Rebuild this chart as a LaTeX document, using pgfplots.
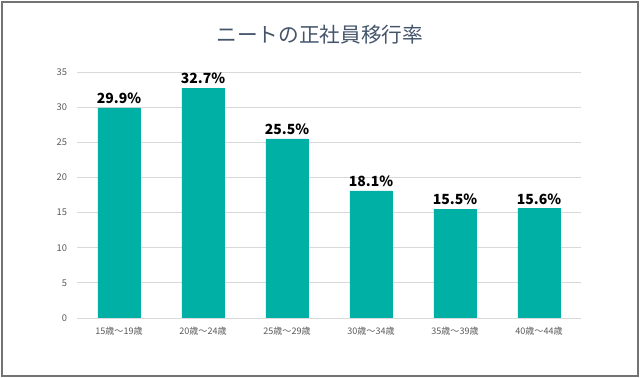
\documentclass[border=0pt]{standalone}
\usepackage{fontspec}
\setmainfont{Noto Sans CJK JP}
\usepackage{pgfplots}
\pgfplotsset{compat=1.18}
\definecolor{barc}{RGB}{0,176,164}
\definecolor{titlec}{RGB}{68,84,106}
\definecolor{tickc}{RGB}{89,89,89}
\definecolor{gridc}{RGB}{217,217,217}
\begin{document}
\begin{tikzpicture}[x=1pt,y=1pt]
\useasboundingbox (-57.75,-45) rectangle (422.25,238.5);
\draw[gray!90!black,line width=0.8pt] (-56.25,-43.5) rectangle (420.75,237);
\node[text=titlec,font=\fontsize{15.5}{18}\selectfont] at (182.25,212.25) {ニートの正社員移行率};
\begin{axis}[
  at={(0,0)}, anchor=south west,
  scale only axis,
  width=378pt, height=184.5pt,
  xmin=-0.5, xmax=5.5, ymin=0, ymax=35,
  ytick={0,5,...,35},
  xtick=data,
  xticklabels={15歳～19歳,20歳～24歳,25歳～29歳,30歳～34歳,35歳～39歳,40歳～44歳},
  axis line style={draw=none},
  major tick length=0pt,
  ymajorgrids, grid style={gridc,line width=0.6pt},
  tick label style={text=tickc},
  yticklabel style={font=\fontsize{7}{8}\selectfont, xshift=-4pt},
  xticklabel style={font=\fontsize{6.8}{8}\selectfont, yshift=-3pt},
  /pgf/number format/assume math mode=true,
  nodes near coords={\pgfmathprintnumber[fixed,precision=1,fixed zerofill]{\pgfplotspointmeta}\%},
  nodes near coords style={font=\bfseries\fontsize{10.5}{12}\selectfont, text=black, yshift=-0.5pt},
]
\addplot[ybar, bar width=31.5pt, fill=barc, draw=barc] coordinates {
 (0,29.9) (1,32.7) (2,25.5) (3,18.1) (4,15.5) (5,15.6)};
\end{axis}
\end{tikzpicture}
\end{document}
